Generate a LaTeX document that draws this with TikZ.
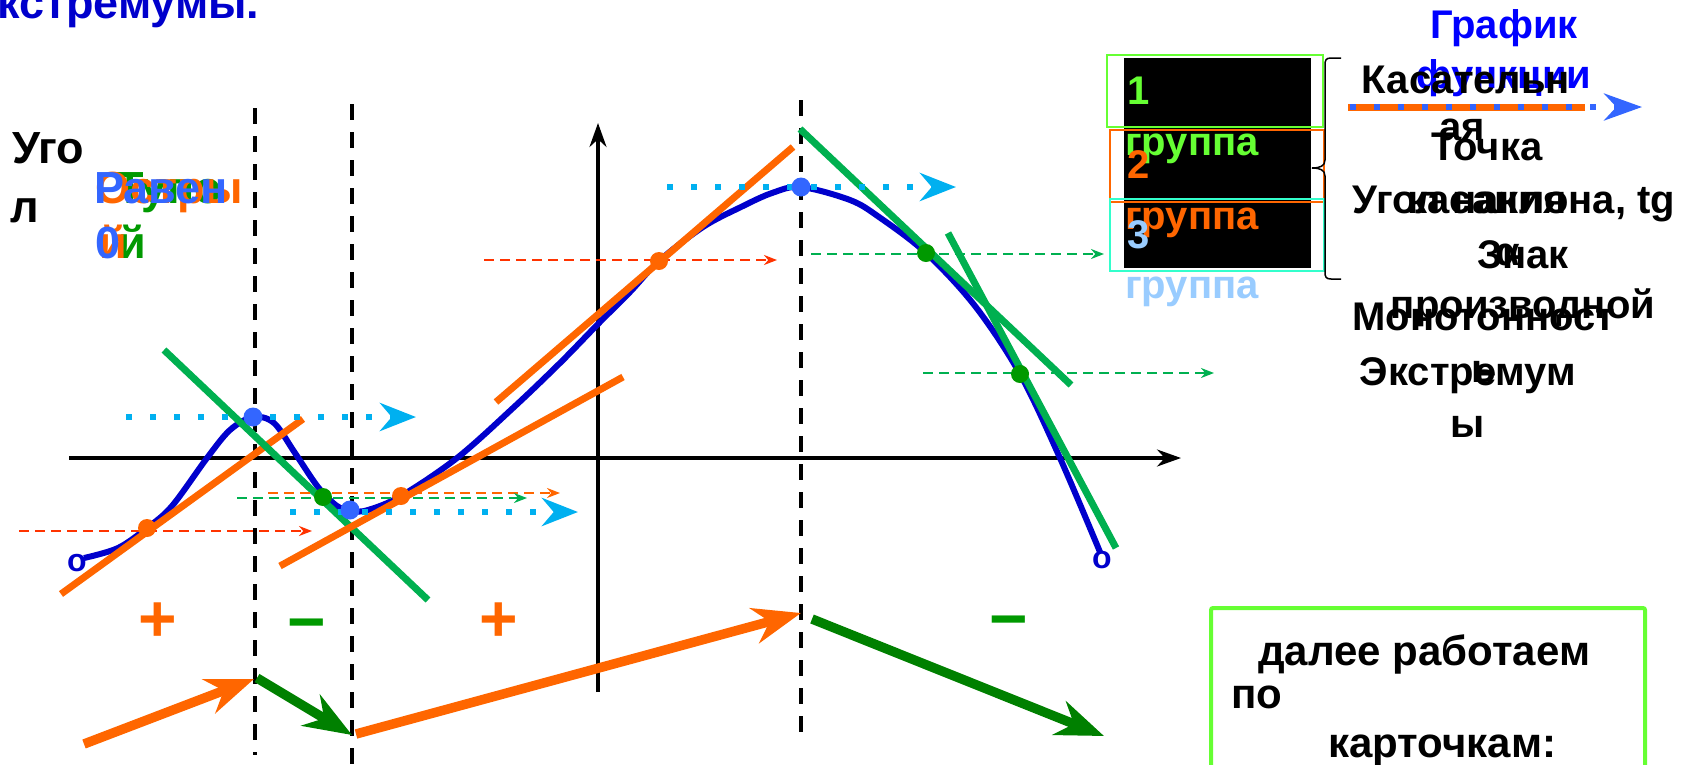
\documentclass[tikz,border=0pt]{standalone}
\usepackage{fontspec}
\setmainfont{Liberation Sans}
\usetikzlibrary{arrows.meta}
\definecolor{curveblue}{RGB}{0,0,204}
\definecolor{brightblue}{RGB}{0,0,255}
\definecolor{dotblue}{RGB}{51,102,255}
\definecolor{skyblue}{RGB}{0,176,240}
\definecolor{tanorange}{RGB}{255,102,0}
\definecolor{tangreen}{RGB}{0,176,80}
\definecolor{darkgreen}{RGB}{0,128,0}
\definecolor{midgreen}{RGB}{0,153,0}
\definecolor{hintred}{RGB}{255,51,0}
\definecolor{limegreen}{RGB}{102,255,51}
\definecolor{aqua}{RGB}{51,255,204}
\definecolor{paleblue}{RGB}{153,204,255}
\tikzset{
  axis/.style={black,line width=3.2pt,-{Stealth[length=24pt,width=17pt]}},
  guide/.style={black,line width=4pt,dash pattern=on 16pt off 12pt},
  fcurve/.style={curveblue,line width=6pt},
  tline/.style={line width=7pt},
  hint/.style={line width=2.2pt,dash pattern=on 10pt off 6pt,-{Stealth[length=13pt,width=10pt]}},
  flatline/.style={skyblue,line width=6pt,dash pattern=on 6pt off 18pt,-{Stealth[length=36pt,width=28pt]}},
  trend/.style={line width=9.5pt,-{Stealth[length=48pt,width=36pt]}},
  word/.style={font=\fontsize{45}{58}\selectfont\bfseries,inner sep=0pt,anchor=base west},
  side/.style={font=\fontsize{40}{50}\selectfont\bfseries,inner sep=0pt,anchor=base},
  grp/.style={font=\fontsize{40}{50}\selectfont\bfseries,inner sep=0pt,anchor=base west},
  card/.style={font=\fontsize{42}{50}\selectfont\bfseries,inner sep=0pt,anchor=base west},
  sign/.style={font=\fontsize{66}{78}\selectfont\bfseries,inner sep=0pt},
  endmark/.style={font=\fontsize{32}{38}\selectfont\bfseries,inner sep=0pt,text=curveblue},
}
\begin{document}
\begin{tikzpicture}[x=1pt,y=-1pt]
  \useasboundingbox (0,0) rectangle (1690,764);
  \node[word,text=curveblue] (title) at (-3,18) {кстремумы.};

  \node[word] (ugol1) at (12,163) {Уго};
  \node[word] (ugol2) at (10,222) {л};
  \node[word,text=midgreen] (tup1) at (116,203) {Тупо};
  \node[word,text=midgreen] (tup2) at (118,258) {й};
  \node[word,text=tanorange] (ostr1) at (95,203) {Остры};
  \node[word,text=tanorange] (ostr2) at (99,258) {й};
  \node[word,text=dotblue] (zero1) at (94,203) {Равен};
  \node[word,text=dotblue] (zero2) at (95,258) {0};

  \draw[axis] (69,458) -- (1181,458);
  \draw[axis] (598,692) -- (598,123);
  \draw[guide] (255,108) -- (255,755);
  \draw[guide] (352,104) -- (352,764);
  \draw[guide] (801,100) -- (801,735);

  \draw[fcurve] plot[smooth,tension=0.55] coordinates {
    (84,558) (118,548) (147,528) (172,506) (207,458) (230,430) (253,417)
    (274,423) (295,453) (318,487) (337,506) (352,511) (368,510) (401,496)
    (457,458) (513,408) (560,363) (599,323) (630,292) (659,261) (703,227)
    (741,207) (772,193) (801,187) (850,200) (879,217) (926,253) (975,306)
    (1020,374) (1060,458) (1100,552)};
  \node[endmark] (lend) at (77,563) {o};
  \node[endmark] (rend) at (1102,560) {o};

  \draw[tline,tanorange] (61,594) -- (303,419);
  \draw[tline,tangreen] (164,350) -- (428,600);
  \draw[tline,tanorange] (280,566) -- (623,377);
  \draw[tline,tanorange] (496,402) -- (793,147);
  \draw[tline,tangreen] (800,129) -- (1071,385);
  \draw[tline,tangreen] (948,233) -- (1116,548);

  \draw[hint,hintred] (19,531) -- (312,531);
  \draw[hint,hintred] (484,260) -- (777,260);
  \draw[hint,tanorange] (268,493) -- (560,493);
  \draw[hint,tangreen] (237,498) -- (527,498);
  \draw[hint,tangreen] (811,254) -- (1104,254);
  \draw[hint,tangreen] (923,373) -- (1214,373);

  \draw[flatline] (126,417) -- (416,417);
  \draw[flatline] (290,512) -- (578,512);
  \draw[flatline] (667,187) -- (956,187);

  \fill[dotblue] (253,417) circle (9.5) (350,510) circle (9.5) (801,187) circle (9.5);
  \fill[tanorange] (147,528) circle (9) (401,496) circle (9) (659,261) circle (9);
  \fill[midgreen] (323,497) circle (9) (926,253) circle (9) (1020,374) circle (9);

  \node[sign,text=tanorange] (plus1) at (158,622) {+};
  \node[sign,text=midgreen] (minus1) at (307,632) {−};
  \node[sign,text=tanorange] (plus2) at (499,622) {+};
  \node[sign,text=midgreen] (minus2) at (1009,629) {−};

  \draw[trend,tanorange] (84,744) -- (254,679);
  \draw[trend,darkgreen] (257,678) -- (352,735);
  \draw[trend,tanorange] (356,734) -- (801,613);
  \draw[trend,darkgreen] (812,619) -- (1104,736);

  \fill[black] (1124,58) rectangle (1311,268);
  \draw[limegreen,line width=2pt] (1107,55) rectangle (1323,127);
  \draw[tanorange,line width=2pt] (1110,130) rectangle (1324,202);
  \draw[aqua,line width=2pt] (1110,199) rectangle (1324,271);
  \node[grp,text=limegreen] (g1) at (1127,104) {1};
  \node[grp,text=limegreen] (g1w) at (1125,155) {группа};
  \node[grp,text=tanorange] (g2) at (1127,178) {2};
  \node[grp,text=tanorange] (g2w) at (1125,229) {группа};
  \node[grp,text=paleblue] (g3) at (1127,248) {3};
  \node[grp,text=paleblue] (g3w) at (1125,298) {группа};
  \draw[black,line width=1.5pt] (1341,58) -- (1331,58)
    .. controls (1326,58) and (1325,60) .. (1325,65) -- (1325,160)
    .. controls (1325,166) and (1320,168) .. (1312,168)
    .. controls (1320,168) and (1325,170) .. (1325,176) -- (1325,272)
    .. controls (1325,277) and (1326,279) .. (1331,279) -- (1341,279);

  \node[side,text=brightblue] (fun1) at (1504,38) {График};
  \node[side,text=brightblue] (fun2) at (1504,88) {функции};
  \node[side] (kas1) at (1466,93) {Касательн};
  \node[side] (kas2) at (1462,140) {ая};
  \draw[tanorange,line width=7pt] (1348,107) -- (1585,107);
  \draw[dotblue,line width=5.5pt,dash pattern=on 5.5pt off 18.5pt,
        -{Stealth[length=38pt,width=27pt]}] (1350,107) -- (1642,107);
  \node[side] (pt1) at (1487,160) {Точка};
  \node[side] (pt2) at (1487,213) {касания};
  \node[side] (ang1) at (1514,213) {Угол наклона, tg};
  \node[side] (ang2) at (1508,265) {α};
  \node[side] (sgn1) at (1523,268) {Знак};
  \node[side] (sgn2) at (1523,318) {производной};
  \node[side] (mon1) at (1484,330) {Монотонност};
  \node[side] (mon2) at (1484,382) {ь};
  \node[side] (ext1) at (1468,385) {Экстремум};
  \node[side] (ext2) at (1468,437) {ы};

  \draw[limegreen,line width=4pt,rounded corners=2pt] (1211,608) rectangle (1645,790);
  \node[card] (next1) at (1258,665) {далее работаем};
  \node[card] (next2) at (1231,708) {по};
  \node[card] (next3) at (1328,757) {карточкам:};
\end{tikzpicture}
\end{document}
